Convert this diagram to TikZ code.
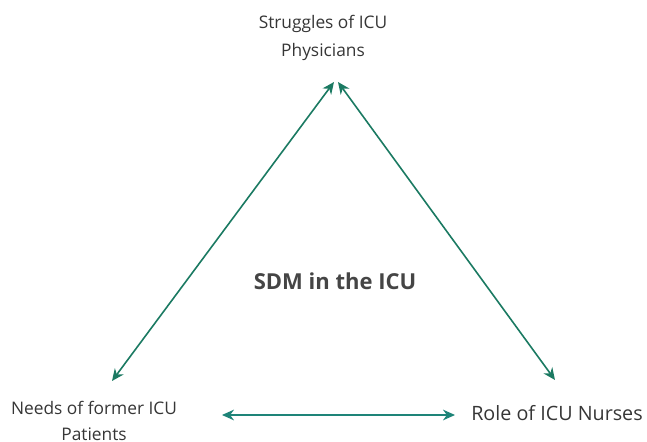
\documentclass[tikz,border=0pt]{standalone}
\usepackage{fontspec}
\setmainfont{Open Sans}
\usetikzlibrary{arrows.meta}
\definecolor{txt}{HTML}{363636}
\definecolor{mtxt}{HTML}{454545}
\definecolor{arr}{HTML}{1B7A62}
\definecolor{arrb}{HTML}{1E8478}
\tikzset{
  lbl/.style={text=txt, font=\fontsize{13pt}{19pt}\selectfont, align=center, inner sep=0pt},
  link/.style={draw=arr, line width=1.2pt, {Stealth[length=9pt,width=8pt]}-{Stealth[length=9pt,width=8pt]}}
}
\begin{document}
\begin{tikzpicture}[x=0.75pt,y=-0.75pt]
\useasboundingbox (0,0) rectangle (647,442);
\node[lbl, font=\fontsize{13pt}{21pt}\selectfont] (top) at (323,38) {Struggles of ICU\\Physicians};
\node[lbl] (left) at (94,421) {Needs of former ICU\\Patients};
\node[lbl, font=\fontsize{14.8pt}{19pt}\selectfont] (right) at (557,413) {Role of ICU Nurses};
\node[lbl, text=mtxt, font=\fontsize{16.5pt}{19pt}\selectfont\bfseries] (mid) at (335,281) {SDM in the ICU};
\coordinate (t1) at (334,82);
\coordinate (t2) at (338,82);
\coordinate (l1) at (112,381);
\coordinate (r1) at (555,380);
\coordinate (b1) at (222,415);
\coordinate (b2) at (455,415);
\draw[link] (t1) -- (l1);
\draw[link] (t2) -- (r1);
\draw[link, draw=arrb] (b1) -- (b2);
\end{tikzpicture}
\end{document}
